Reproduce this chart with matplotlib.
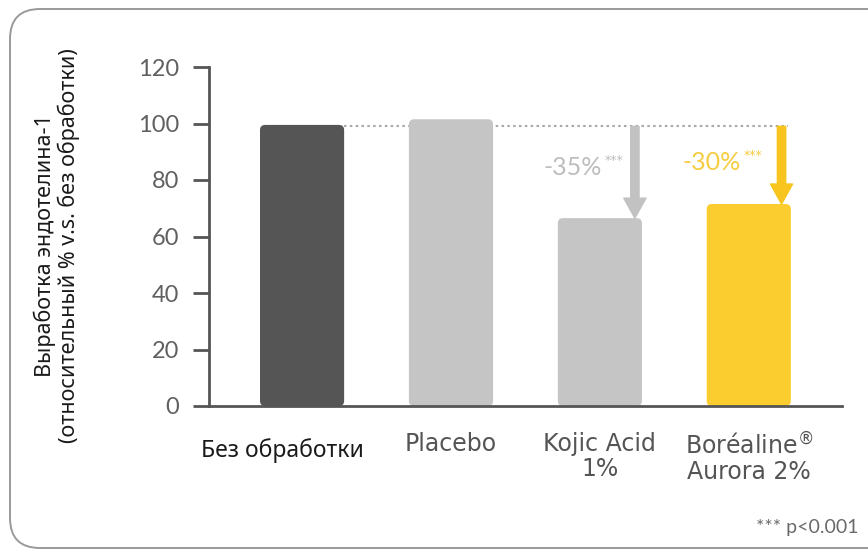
import matplotlib
matplotlib.use("Agg")
import matplotlib.pyplot as plt
from matplotlib.patches import FancyBboxPatch
from matplotlib.transforms import IdentityTransform

categories = ["Без обработки", "Placebo", "Kojic Acid\n1%", "Boréaline$^{\\circledR}$\nAurora 2%"]
values = [99.5, 101.5, 66.5, 71.5]
reference = 100
changes = ["-35%", "-30%"]
stars = "***"
yticks = [0, 20, 40, 60, 80, 100, 120]
footnote = "*** p<0.001"
ylabel = "Выработка эндотелина-1\n(относительный % v.s. без обработки)"

colors = ["#555555", "#c5c5c5", "#c5c5c5", "#fccd2f"]
arrow_colors = ["#c2c2c2", "#f7c51e"]
text_colors = ["#bdbdbd", "#f6cc40"]
axis_col = "#555555"

W, H = 868, 553
fig = plt.figure(figsize=(W / 100, H / 100), dpi=100)

# outer rounded frame (pixel coordinates)
frame = FancyBboxPatch((10, 5), 900, 539, boxstyle="round,pad=0,rounding_size=30",
                       transform=IdentityTransform(), facecolor="none",
                       edgecolor="#9a9a9a", lw=1.4, zorder=-1)
fig.patches.append(frame)

ax = fig.add_axes([209 / W, 1 - 406 / H, (842 - 209) / W, (406 - 67) / H])
ax.set_facecolor("none")

x = list(range(len(categories)))
bw = 0.565
bars = ax.bar(x, values, width=bw, color=colors)
# rounded corners
for b, c in zip(bars, colors):
    b.set_visible(False)
    p = FancyBboxPatch((b.get_x(), b.get_y()), b.get_width(), b.get_height(),
                       boxstyle="round,pad=0,rounding_size=0.035",
                       mutation_aspect=52, facecolor=c, edgecolor="none", zorder=2)
    ax.add_patch(p)

ax.set_xlim(-0.625, 3.626)
ax.set_ylim(0, 120)
ax.set_yticks(yticks)
ax.set_yticklabels([str(t) for t in yticks], fontfamily="Lato", fontsize=17,
                   color="#606060")
ax.tick_params(axis="y", direction="out", length=11.5, width=2, color=axis_col, pad=10)
ax.set_xticks([])
for s in ["top", "right"]:
    ax.spines[s].set_visible(False)
for s in ["left", "bottom"]:
    ax.spines[s].set_color(axis_col)
    ax.spines[s].set_linewidth(2)

# dotted reference line
ax.plot([x[0] + bw / 2, x[3] + bw / 2 - 0.02], [reference - 1, reference - 1],
        linestyle=(0, (1.2, 1.6)), color="#a8a8a8", lw=1.5, zorder=1)

# arrows and labels
arrow_x = [x[2] + 0.235, x[3] + 0.22]
for i, (bi, ax_x) in enumerate(zip([2, 3], arrow_x)):
    ax.annotate("", xy=(ax_x, values[bi]), xytext=(ax_x, reference - 1),
                arrowprops=dict(arrowstyle="simple,head_length=0.72,head_width=0.8,tail_width=0.3",
                                color=arrow_colors[i], shrinkA=0, shrinkB=0,
                                mutation_scale=20), zorder=3)
label_dx = [-0.222, -0.274]
label_y = [84.3, 86.1]
star_y = [86.8, 88.6]
for i in range(2):
    ax.text(arrow_x[i] + label_dx[i], label_y[i], changes[i], ha="right", va="center",
            fontfamily="Lato", fontsize=18, color=text_colors[i])
    ax.text(arrow_x[i] + label_dx[i] + 0.018, star_y[i], stars, ha="left", va="center",
            fontfamily="DejaVu Sans", fontsize=9, color=text_colors[i])

# category labels
trans = ax.get_xaxis_transform()
ax.text(x[0] - 0.13, -0.131, categories[0], transform=trans, ha="center", va="center",
        fontfamily="Noto Sans", fontsize=16.5, color="#1a1a1a")
for i in range(1, 4):
    ax.text(x[i], -0.077, categories[i], transform=trans, ha="center", va="top",
            fontfamily="DejaVu Sans", fontsize=17, color="#555555", linespacing=1.05)

fig.text(57 / W, 1 - 246 / H, ylabel, rotation=90, ha="center", va="center",
         fontfamily="Noto Sans", fontsize=15.5, color="#1a1a1a", linespacing=1.1)
fig.text(858 / W, 1 - 527 / H, footnote, ha="right", va="center",
         fontfamily="Lato", fontsize=14, color="#6a6a6a")

fig.savefig("out.png", dpi=100)
